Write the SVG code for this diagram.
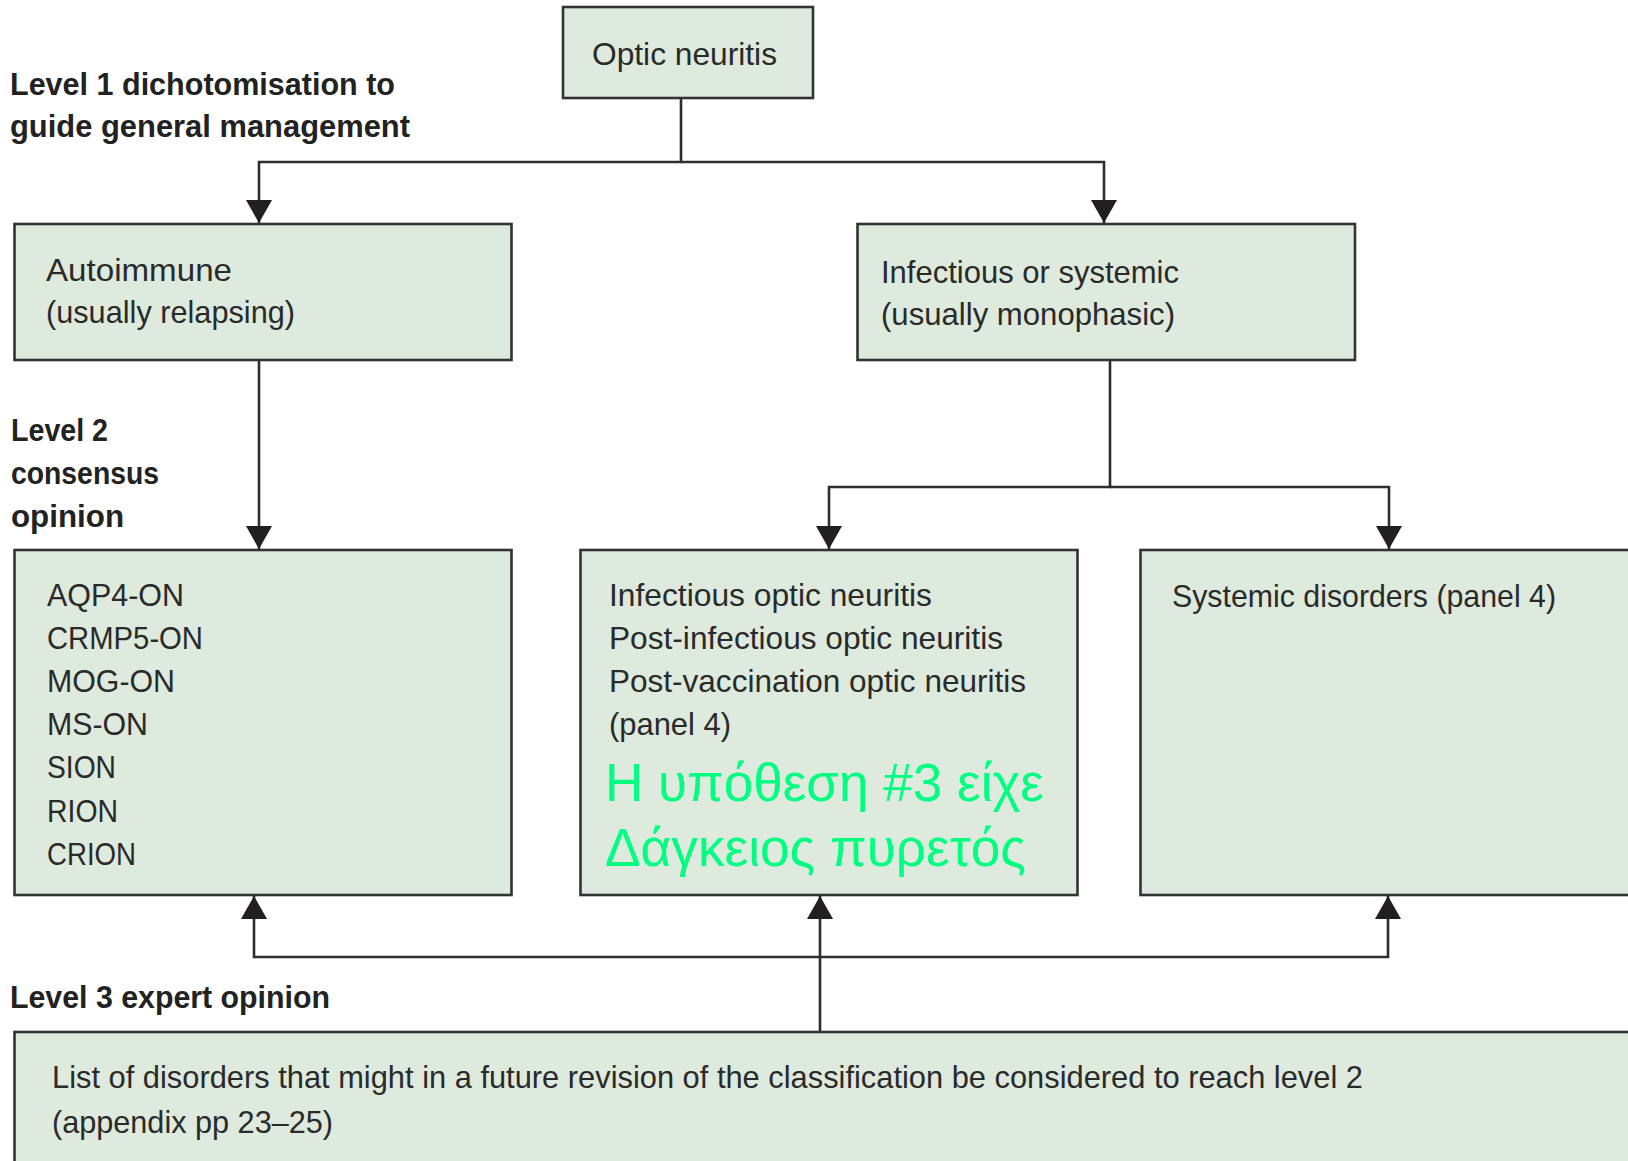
<svg xmlns="http://www.w3.org/2000/svg" width="1628" height="1161" viewBox="0 0 1628 1161">
<style>
.box{fill:#deeade;stroke:#333333;stroke-width:2.6}
.t{font-family:"Liberation Sans",Arial,sans-serif;font-size:31.5px;fill:#2a2a2a}
.lb{font-family:"Liberation Sans",Arial,sans-serif;font-size:31px;font-weight:bold;fill:#222222}
.g{font-family:"Liberation Sans",Arial,sans-serif;font-size:53px;fill:#00ff80}
.c{fill:none;stroke:#2e2e2e;stroke-width:2.6}
</style>
<defs>
<marker id="ah" markerUnits="userSpaceOnUse" viewBox="0 0 23 26" refX="23" refY="13" markerWidth="23" markerHeight="26" orient="auto">
<path d="M0,0 L23,13 L0,26 z" fill="#231f20"/>
</marker>
</defs>
<rect width="1628" height="1161" fill="#ffffff"/>

<g id="labels">
<text class="lb" x="10" y="95" textLength="385" lengthAdjust="spacingAndGlyphs">Level 1 dichotomisation to</text>
<text class="lb" x="10" y="137" textLength="400" lengthAdjust="spacingAndGlyphs">guide general management</text>
<text class="lb" x="11" y="441" textLength="97" lengthAdjust="spacingAndGlyphs">Level 2</text>
<text class="lb" x="11" y="484" textLength="148" lengthAdjust="spacingAndGlyphs">consensus</text>
<text class="lb" x="11" y="527" textLength="113" lengthAdjust="spacingAndGlyphs">opinion</text>
<text class="lb" x="10" y="1008" textLength="320" lengthAdjust="spacingAndGlyphs">Level 3 expert opinion</text>
</g>

<g id="connectors">
<path class="c" d="M681,99 V162 H259 V223" marker-end="url(#ah)"/>
<path class="c" d="M681,162 H1104 V223" marker-end="url(#ah)"/>
<path class="c" d="M259,360 V549" marker-end="url(#ah)"/>
<path class="c" d="M1110,360 V487 H829 V549" marker-end="url(#ah)"/>
<path class="c" d="M1110,487 H1389 V549" marker-end="url(#ah)"/>
<path class="c" d="M820,1032 V896" marker-end="url(#ah)"/>
<path class="c" d="M820,957 H254 V896" marker-end="url(#ah)"/>
<path class="c" d="M820,957 H1388 V896" marker-end="url(#ah)"/>
</g>

<g id="optic-neuritis">
<rect class="box" x="563" y="7" width="250" height="91"/>
<text class="t" x="592" y="65" textLength="185" lengthAdjust="spacingAndGlyphs">Optic neuritis</text>
</g>

<g id="autoimmune">
<rect class="box" x="14.5" y="224" width="497" height="136"/>
<text class="t" x="46" y="281" textLength="186" lengthAdjust="spacingAndGlyphs">Autoimmune</text>
<text class="t" x="46" y="323" textLength="249" lengthAdjust="spacingAndGlyphs">(usually relapsing)</text>
</g>

<g id="infectious-systemic">
<rect class="box" x="857.5" y="224" width="497.5" height="136"/>
<text class="t" x="881" y="283" textLength="298" lengthAdjust="spacingAndGlyphs">Infectious or systemic</text>
<text class="t" x="881" y="325" textLength="294" lengthAdjust="spacingAndGlyphs">(usually monophasic)</text>
</g>

<g id="autoimmune-list">
<rect class="box" x="14.5" y="550" width="497" height="345"/>
<text class="t" x="47" y="606" textLength="137" lengthAdjust="spacingAndGlyphs">AQP4-ON</text>
<text class="t" x="47" y="649" textLength="156" lengthAdjust="spacingAndGlyphs">CRMP5-ON</text>
<text class="t" x="47" y="692" textLength="128" lengthAdjust="spacingAndGlyphs">MOG-ON</text>
<text class="t" x="47" y="735" textLength="101" lengthAdjust="spacingAndGlyphs">MS-ON</text>
<text class="t" x="47" y="778" textLength="69" lengthAdjust="spacingAndGlyphs">SION</text>
<text class="t" x="47" y="822" textLength="71" lengthAdjust="spacingAndGlyphs">RION</text>
<text class="t" x="47" y="865" textLength="89" lengthAdjust="spacingAndGlyphs">CRION</text>
</g>

<g id="infectious-list">
<rect class="box" x="580.5" y="550" width="497" height="345"/>
<text class="t" x="609" y="606" textLength="323" lengthAdjust="spacingAndGlyphs">Infectious optic neuritis</text>
<text class="t" x="609" y="649" textLength="394" lengthAdjust="spacingAndGlyphs">Post-infectious optic neuritis</text>
<text class="t" x="609" y="692" textLength="417" lengthAdjust="spacingAndGlyphs">Post-vaccination optic neuritis</text>
<text class="t" x="609" y="735" textLength="122" lengthAdjust="spacingAndGlyphs">(panel 4)</text>
<text class="g" x="605" y="801" textLength="439" lengthAdjust="spacingAndGlyphs">Η υπόθεση #3 είχε</text>
<text class="g" x="605" y="866" textLength="421" lengthAdjust="spacingAndGlyphs">Δάγκειος πυρετός</text>
</g>

<g id="systemic-list">
<rect class="box" x="1140.5" y="550" width="510" height="345"/>
<text class="t" x="1172" y="607" textLength="384" lengthAdjust="spacingAndGlyphs">Systemic disorders (panel 4)</text>
</g>

<g id="level3-list">
<rect class="box" x="14.5" y="1032" width="1640" height="150"/>
<text class="t" x="52" y="1088" textLength="1311" lengthAdjust="spacingAndGlyphs">List of disorders that might in a future revision of the classification be considered to reach level 2</text>
<text class="t" x="52" y="1133" textLength="281" lengthAdjust="spacingAndGlyphs">(appendix pp 23–25)</text>
</g>
</svg>
